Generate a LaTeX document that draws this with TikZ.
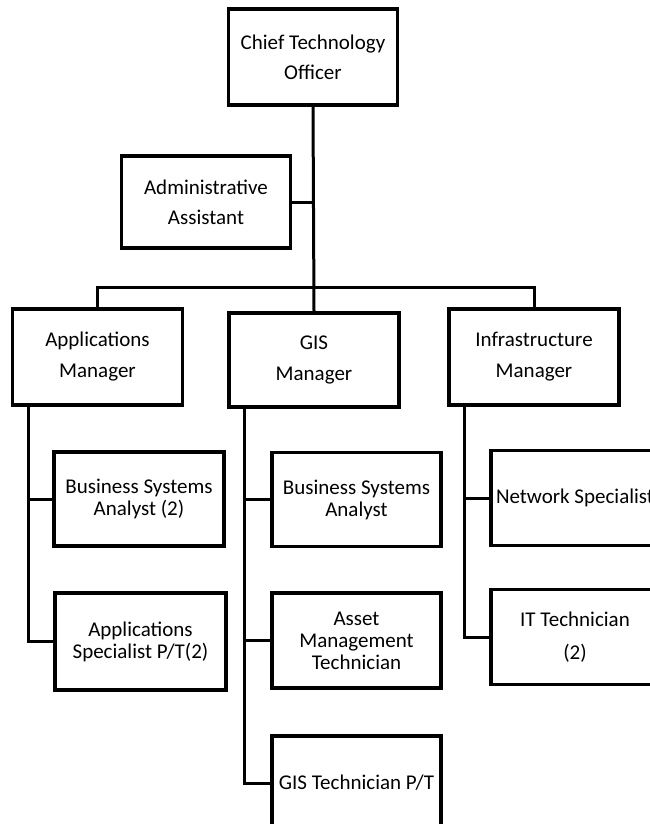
\documentclass[tikz,border=0pt]{standalone}
\usepackage{fontspec}
\setmainfont{Carlito}
\usepackage{tikz}

\begin{document}
\begin{tikzpicture}[x=1pt, y=-1pt,
  orgbox/.style={draw, line width=3.5pt, minimum width=169pt, minimum height=94pt,
    inner sep=0pt, align=center, font=\fontsize{21}{22}\selectfont},
  link/.style={line width=3pt}]
\useasboundingbox (0,0) rectangle (650,824);
\clip (0,0) rectangle (650,824);

% Top of the chart
\node[orgbox, minimum height=96pt] (cto) at (313,57) {Chief Technology\\[8pt]Officer};
\node[orgbox, minimum height=92pt] (admin) at (206,202) {Administrative\\[8pt]Assistant};

% Managers
\node[orgbox, minimum width=170pt, minimum height=96pt] (appmgr) at (97.5,357) {Applications\\[9pt]Manager};
\node[orgbox, minimum width=170pt] (gismgr) at (314,360) {GIS\\[9pt]Manager};
\node[orgbox, minimum width=170pt, minimum height=96pt] (inframgr) at (534,357) {Infrastructure\\[9pt]Manager};

% Staff under each manager
\node[orgbox, minimum width=170pt] (bsatwo) at (139,499) {Business Systems\\Analyst (2)};
\node[orgbox, minimum width=171pt, minimum height=97pt] (appspec) at (140.5,641.5) {Applications\\Specialist P/T(2)};

\node[orgbox] (bsa) at (356.5,499.5) {Business Systems\\Analyst};
\node[orgbox, minimum height=95pt] (asset) at (356.5,640.5) {Asset\\Management\\Technician};
\node[orgbox] (gistech) at (356.5,783) {GIS Technician P/T};

\node[orgbox, minimum width=168pt, minimum height=95pt] (netspec) at (575,498) {Network Specialist};
\node[orgbox, minimum width=168pt, minimum height=95pt] (ittech) at (575,637) {IT Technician\\[11pt](2)};

% Connectors
\coordinate (bar) at (313,287);
\draw[link] (cto.south) -- (gismgr.north);
\draw[link] (admin.east) -- (admin.east -| cto.south);
\draw[link] (appmgr.north) |- (bar) -| (inframgr.north);

\coordinate (appdown) at ([xshift=17.5pt]appmgr.south west);
\coordinate (gisdown) at ([xshift=17pt]gismgr.south west);
\coordinate (infradown) at ([xshift=17pt]inframgr.south west);

\draw[link] (appdown) |- (bsatwo.west);
\draw[link] (appdown) |- (appspec.west);
\draw[link] (gisdown) |- (bsa.west);
\draw[link] (gisdown) |- (asset.west);
\draw[link] (gisdown) |- (gistech.west);
\draw[link] (infradown) |- (netspec.west);
\draw[link] (infradown) |- (ittech.west);

\end{tikzpicture}
\end{document}
